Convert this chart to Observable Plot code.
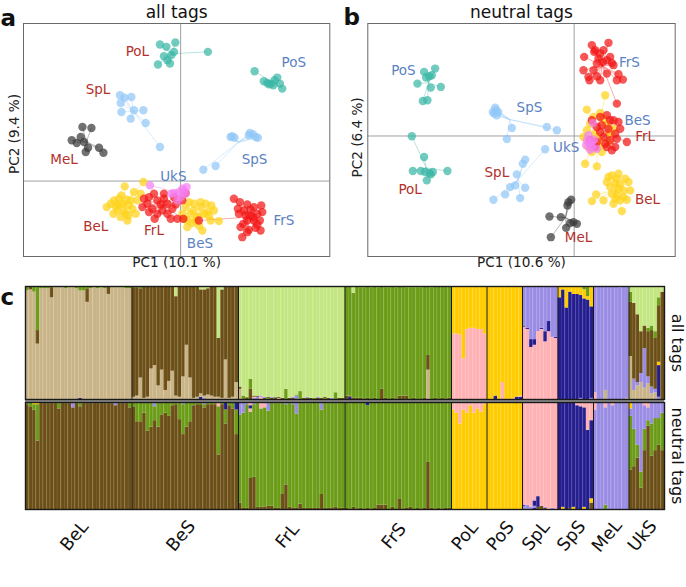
<!DOCTYPE html>
<html><head><meta charset="utf-8">
<script src="https://cdn.jsdelivr.net/npm/d3@7"></script>
<script src="https://cdn.jsdelivr.net/npm/@observablehq/plot@0.6"></script>
<style>
body{margin:0;background:#fff;}
#fig{position:relative;width:686px;height:587px;overflow:hidden;font-family:"DejaVu Sans",sans-serif;}
#fig > div{position:absolute;}
#gap{left:25px;top:399px;width:639px;height:3px;background:#8f8f8f;}
</style></head><body>
<div id="fig">
  <div id="gap"></div>
  <div id="pa" style="left:0;top:0"></div>
  <div id="pb" style="left:343px;top:0"></div>
  <div id="ct" style="left:0;top:285px"></div>
  <div id="cb" style="left:0;top:401px"></div>
</div>
<script>
// ---------- PCA data (PC1, PC2 in arbitrary units) ----------
const a_BeL = [[-5.6,-0.53],[-6.67,-1.93],[-7.4,-2.6],[-6.17,-1.77],[-5.83,-2.27],[-5.17,-2.43],[-6.33,-2.93],[-5.5,-3.27],[-4.83,-2.77],[-6.0,-3.6],[-5.33,-3.93],[-6.5,-2.53],[-4.33,-1.93],[-3.73,-0.1],[-4.67,-1.1],[-7.0,-2.27],[-5.0,-1.93],[-5.73,-2.93],[-6.27,-2.33],[-5.23,-3.43],[-4.5,-3.27],[-6.73,-3.27],[-5.93,-1.43],[-5.4,-1.87],[-4.0,-1.27]];
const a_BeS = [[0.5,-2.6],[1.0,-3.27],[1.33,-2.27],[2.0,-2.6],[2.33,-3.27],[1.67,-3.6],[2.67,-3.1],[3.33,-2.93],[0.67,-3.93],[1.17,-4.2],[1.83,-4.43],[2.17,-4.93],[3.0,-3.93],[3.83,-4.0],[0.17,-3.27],[0.83,-2.1],[2.5,-2.27],[1.5,-3.93],[2.0,-2.1],[2.83,-3.43],[0.67,-4.6],[1.27,-2.93],[3.07,-2.43],[0.33,-3.77]];
const a_FrL = [[-3.67,-1.77],[-3.33,-2.27],[-2.67,-1.27],[-1.67,-1.27],[-2.83,-2.77],[-2.33,-3.27],[-1.83,-2.93],[-3.17,-3.1],[-1.33,-2.27],[-0.67,-1.6],[-0.5,-2.33],[-1.0,-3.77],[-0.33,-3.77],[0.27,-3.77],[0.5,-1.2],[-2.33,-1.93],[-2.0,-2.33],[-3.83,-2.6],[-2.6,-3.77],[-1.33,-3.27],[0.17,-1.93],[-1.67,-1.77],[-0.83,-2.77],[-3.17,-1.6]];
const a_FrS = [[5.33,-1.77],[5.93,-2.1],[6.67,-2.33],[7.33,-2.6],[8.07,-2.43],[7.67,-3.27],[7.0,-3.43],[6.33,-2.93],[5.83,-3.27],[6.67,-3.93],[7.33,-3.93],[7.93,-3.93],[6.0,-4.6],[6.83,-4.87],[7.5,-4.67],[8.0,-4.93],[6.17,-5.6],[6.67,-5.1],[7.27,-3.6],[5.73,-2.77],[6.5,-3.43],[8.17,-3.1],[7.0,-2.87],[6.27,-4.27],[7.67,-4.33],[1.83,-3.93]];
const a_PoL = [[-2.07,13.63],[-1.43,13.4],[-0.53,13.83],[-0.67,12.9],[-1.67,12.47],[-0.93,12.57],[-1.33,12.07],[-2.27,11.63],[-1.07,11.73],[2.73,12.9]];
const a_PoS = [[7.4,10.97],[8.33,9.97],[8.67,9.8],[9.07,9.73],[9.4,10.07],[9.67,10.33],[9.93,9.73],[9.27,9.57],[10.17,9.23],[8.83,9.67]];
const a_SpL = [[-6.07,8.57],[-4.93,8.4],[-6.0,7.8],[-5.93,6.9],[-4.67,7.07],[-3.73,7.07],[-5.0,6.23],[-3.5,5.8],[-2.07,3.4],[-5.6,8.33]];
const a_SpS = [[5.0,4.4],[5.4,4.33],[6.93,4.8],[7.23,4.67],[7.73,4.33],[7.5,4.4],[2.27,1.13],[3.5,1.5],[6.83,4.57],[5.17,4.47]];
const a_MeL = [[-9.83,5.4],[-8.93,5.3],[-10.0,4.4],[-10.9,4.07],[-10.4,3.8],[-9.27,3.33],[-8.17,3.33],[-7.73,2.83],[-9.5,2.9],[-9.67,3.9]];
const a_UkS = [[-3.07,-0.43],[-0.67,-1.2],[-0.17,-1.1],[0.33,-1.0],[0.5,-1.27],[0,-1.6],[-0.33,-1.93],[-0.93,-1.27],[0.6,-0.6],[0.17,-0.77]];
const a_labels = [["PoL",-4.33,12.9],["PoS",11.33,11.8],["SpL",-8.27,9.13],["MeL",-11.67,2.13],["SpS",7.4,2.17],["UkS",-0.73,0.47],["BeL",-8.5,-4.53],["FrL",-2.67,-5.0],["BeS",1.93,-6.2],["FrS",10.33,-3.93]];

const b_BeL = [[3.77,-3.93],[4.27,-4.27],[3.27,-4.6],[4.1,-4.7],[4.6,-4.83],[5.1,-4.27],[5.43,-4.6],[3.6,-5.1],[4.43,-5.27],[4.93,-5.43],[3.77,-5.77],[4.27,-5.93],[5.27,-6.37],[4.6,-6.43],[3.93,-6.77],[1.77,-6.5],[2.2,-5.83],[4.77,-7.5],[2.93,-6.43],[4.1,-6.27],[5.6,-5.43],[3.43,-4.1],[4.43,-3.77],[4.93,-6.1]];
const b_BeS = [[3.1,4.07],[1.27,2.63],[2.6,2.3],[1.6,1.23],[2.1,0.23],[3.27,1.17],[3.93,0.73],[0.93,-0.1],[2.43,-0.27],[3.6,0.23],[1.43,-1.1],[2.77,-1.6],[1.1,-2.77],[2.27,-3.03],[1.93,1.9],[2.93,1.73],[3.43,-0.6],[1.77,-1.6],[2.6,-0.93],[1.27,0.57]];
const b_FrL = [[1.77,1.57],[2.6,1.9],[3.27,2.07],[3.6,1.57],[4.43,1.4],[4.6,0.73],[4.1,0.23],[5.27,-0.6],[2.6,0.4],[2.93,-0.1],[3.6,-0.43],[2.27,-0.6],[3.27,-1.1],[3.77,-1.43],[1.6,-0.43],[2.1,-1.1],[4.27,-0.27],[2.77,1.07],[3.43,0.73],[4.1,-1.1],[2.27,0.9],[3.93,1.57],[3.1,-0.77]];
const b_FrS = [[1.77,9.07],[3.43,9.3],[2.1,8.57],[2.6,8.23],[1.0,7.9],[2.87,7.4],[3.27,7.57],[2.27,7.23],[3.6,7.9],[3.93,7.07],[1.93,6.57],[0.93,6.57],[1.53,5.57],[2.27,5.97],[3.27,6.23],[4.43,6.17],[4.87,5.63],[4.27,5.57],[4.27,3.23],[2.0,8.4],[2.93,8.57],[2.43,7.73],[3.77,7.3],[1.43,5.9],[2.6,5.57]];
const b_PoL = [[-16.23,-0.03],[-15.0,-2.1],[-16.13,-3.5],[-15.33,-3.5],[-14.47,-3.7],[-14.33,-3.83],[-14.73,-4.43],[-12.67,-3.5],[-14.9,-3.6],[-14.13,-3.6]];
const b_PoS = [[-15.0,6.4],[-13.9,6.73],[-14.47,5.97],[-15.67,5.23],[-14.33,4.83],[-13.33,4.9],[-15.13,3.5],[-14.67,3.57],[-14.8,5.83],[-14.23,6.07]];
const b_SpL = [[-4.9,-2.37],[-5.73,-3.83],[-5.9,-4.93],[-4.9,-5.17],[-6.9,-5.83],[-8.07,-6.37],[-5.4,-6.2],[-6.4,-5.1],[-5.13,-2.77],[-2.9,-1.33]];
const b_SpS = [[-7.9,2.83],[-8.0,2.23],[-7.73,2.07],[-6.23,0.8],[-6.73,-0.3],[-2.73,0.9],[-1.73,0.57],[-8.13,2.4],[-7.8,2.57],[-7.6,2.4]];
const b_MeL = [[-0.3,-6.37],[-0.67,-6.93],[-2.47,-8.03],[-1.33,-8.1],[-0.4,-8.7],[0.27,-8.77],[-0.8,-9.17],[-2.33,-10.1],[-0.07,-8.6],[-0.57,-6.6]];
const b_UkS = [[1.87,1.3],[1.43,0.07],[1.27,-0.43],[1.77,-1.1],[1.6,-1.37],[2.0,-0.37],[1.53,-0.77],[1.2,-0.93],[2.27,-1.27],[1.77,-0.6]];
const b_labels = [["PoS",-17.07,6.57],["SpS",-4.47,2.83],["FrS",5.53,7.3],["BeS",6.33,1.5],["FrL",7.1,-0.03],["UkS",-0.8,-1.17],["SpL",-7.73,-3.7],["PoL",-16.4,-5.37],["BeL",7.33,-6.37],["MeL",0.43,-10.17]];

const groupNames = ["BeL","BeS","FrL","FrS","PoL","PoS","SpL","SpS","MeL","UkS"];
const groupColors = ["#ffd21a","#ffd21a","#f31616","#f31616","#3cb7a6","#3cb7a6","#92c8f6","#92c8f6","#3a3a3a","#f47ef1"];
const labelRed = "#b3302b", labelBlue = "#5a82c2";

// ---------- STRUCTURE data: tokens bottom->top, letter = cluster, number = percent ----------
const popNames = ["BeL","BeS","FrL","FrS","PoL","PoS","SpL","SpS","MeL","UkS"];
const clusterKeys = ["t","b","l","o","g","p","v","n"];
const clusterFill = ["#c9b487","#6b4f16","#c3e680","#6b9c17","#ffcc00","#ffb1b4","#9a8ce4","#231d8f"];

const all_BeL = ["t96 o4","t97 b3","t95 o5","t49 b12 o39","t98 o2","t98 o2","t98 o2","t90 b9 o1","t99 o1","t99 o1","t99 o1","t98 o2","t99 o1","t99 o1","t98 o2","n1 t95 o4","t96 o4","t86 b12 o2","t98 o2","t99 o1","t98 o2","t99 o1","t98 o2","t93 b7","t99 o1","t99 o1","t99 o1","t99 o1","t98 o2","t98 o2"];
const all_BeS = ["t2 b97 o1","t3 b96 o1","t19 b79 o2","t1 b99","t2 b98","t27 b73","t30 b70","t12 b88","t26 b74","t8 b92","t16 b84","t25 b75","t3 b88 l9","t2 b98","t20 b80","t48 b52","t19 b81","t1 b99","t2 b98","n2 t3 b92 l3","v1 t2 b94 l3","t4 b94 l2","t3 b97","t2 b98","t2 b52 l46","t1 b96 l3","t35 b65","t1 b99","t2 b98","t15 b85"];
const all_FrL = ["t9 b2 l89","o3 l97","b1 o1 l98","b9 o9 l82","v1 p1 b1 l97","v2 b1 l97","p2 v1 l97","b1 v1 l98","o1 b1 l98","b1 v1 l98","b1 o1 l98","p1 b1 l98","b1 l99","o9 l91","b1 l99","b1 v1 l98","v3 o1 l96","o7 l93","b1 l99","b1 v1 l98","b1 l99","o1 l99","b1 v1 l98","b1 l99","o1 b1 l98","b1 l99","v1 l99","o6 l94","b1 l99","b1 l99"];
const all_FrS = ["b3 o97","n2 b1 o97","b1 o93 l6","b1 o99","b1 o98 l1","o99 l1","b1 o99","o99 l1","b1 o99","o99 l1","b9 o91","b1 o98 l1","o99 l1","b1 o99","o99 l1","b3 o97","b3 o97","b3 o96 l1","o99 l1","b1 o98 l1","o99 l1","o99 l1","b1 o99","t26 b13 o61","o99 l1","b1 o99","o100","b1 o99","o100","b1 o99"];
const all_PoL = ["p58 g42","p58 g42","p57 g43","p36 g64","p62 g38","p63 g37","p63 g37","p62 g38","p62 g38","p58 g42"];
const all_PoS = ["g100","g100","n3 g97","g100","p15 g85","g100","g100","p1 g99","n2 g98","n2 p1 g97"];
const all_SpL = ["p64 n1 v35","p62 n1 v37","p46 n7 v47","p48 n5 v47","p60 v40","p62 n1 v37","p51 n9 v40","p60 n9 v31","p55 v45","p54 n1 v45"];
const all_SpS = ["n90 g10","n97 g3","n81 g19","n95 g5","n93 g7","n93 g7","v1 n91 g8","n89 g8 o3","n88 g3 o9","v1 n81 g18"];
const all_MeL = ["p6 v94","v100","v100","t8 v92","v100","v100","v100","v99 l1","v100","t1 v99"];
const all_UkS = ["t38 b48 o9 l5","t8 v10 b67 l15","t12 v3 b60 l25","t15 v8 b37 l40","t10 v35 b20 l35","t14 v6 b40 o3 l37","t5 v6 b50 o4 l35","t6 v3 b45 o6 l40","v2 n28 g3 b50 o7 l10","b95 l5"];

const neu_BeL = ["b98 o2","b96 o4","b93 o5 g2","b64 o34 g2","b99 o1","b99 o1","b99 o1","b99 o1","b99 o1","b94 o6","b99 o1","b99 o1","b99 o1","b95 v5","b99 o1","b96 o3 n1","b99 o1","b99 o1","b99 o1","b99 o1","b99 o1","b99 o1","b99 o1","b99 o1","b99 o1","b97 v3","b99 o1","b99 o1","b99 o1","b95 o5"];
const neu_BeS = ["b96 o4","b82 o18","b82 o18","b90 o10","b73 o27","b77 o23","b83 o13 v4","b77 o23","b88 o12","b90 o10","b87 o13","b97 o3","b98 o2","b84 o16","b70 o28 v2","b77 o23","b82 o18","b97 o3","b98 o2","b98 o2","b95 o3 v2","b98 o2","b98 o2","b98 o2","b51 o45 p4","b98 o2","b80 o13 n7","b97 o3","b94 o6","b70 o23 n7"];
const neu_FrL = ["b6 o82 v12","b1 o89 v10","b1 o97 v2","b29 o62 p3 n3 p3","b30 o68 v2","b2 o97 v1","b2 o92 p6","b2 o93 p5","b3 o89 v8","b3 o96 v1","b1 o98 v1","b1 o98 p1","b14 o85 v1","b23 o75 v2","b2 o97 v1","b1 o97 v2","b1 o88 v11","b5 o94 v1","b1 o98 v1","b1 o98 p1","b1 o98 v1","b1 o99","b1 o98 v1","b14 o79 v7","b1 o99","b1 o98 v1","b1 o99","b2 o97 v1","b1 o99","b1 o98 n1"];
const neu_FrS = ["b1 o99","o99 v1","b2 o98","o100","b1 o99","o100","b1 o96 n3","o100","b1 o99","b4 o96","b4 o96","b4 o96","o100","b2 o98","o100","b10 o90","o100","b1 o99","b2 o98","o100","b1 o99","o100","b1 o99","b44 o56","b1 o99","o100","b1 o99","o100","b1 o99","b1 o98 n1"];
const neu_PoL = ["g93 p7","g90 p10","g80 p20","g93 p7","g90 p10","g97 p3","g90 p10","g94 p6","g91 p9","g98 p2"];
const neu_PoS = ["g100","g100","g100","g100","g100","g100","g100","g100","g99 n1","g100"];
const neu_SpL = ["v3 n1 p96","v4 p96","v2 p98","n1 v2 n5 p92","b2 n10 p88","b3 p97","b1 v1 p98","p100","v1 p99","p100"];
const neu_SpS = ["n100","g2 n98","n100","b1 n99","g2 n98","n97 p3","n96 p4","g2 n93 p5","n74 p26","b6 g4 n73 p17"];
const neu_MeL = ["v93 p7","v100","v100","o4 v91 p5","v100","v97 p3","v100","v100","v100","v99 l1"];
const neu_UkS = ["b37 o50 v7 g6","b40 o35 v25","b48 o12 v40","b20 o15 v65","b55 o20 v22 p3","b78 o5 v12 p5","b50 o30 v20","b55 o30 v15","b60 o25 v15","b55 o35 v10"];

const allRows = [all_BeL,all_BeS,all_FrL,all_FrS,all_PoL,all_PoS,all_SpL,all_SpS,all_MeL,all_UkS];
const neuRows = [neu_BeL,neu_BeS,neu_FrL,neu_FrS,neu_PoL,neu_PoS,neu_SpL,neu_SpS,neu_MeL,neu_UkS];

const FONT = "DejaVu Sans, sans-serif";

// ---------- PCA panels ----------
function pcaPlot(groupArrays, labels, cfg) {
  const colorOf = new Map(groupNames.map((g, i) => [g, groupColors[i]]));
  const pts = [];
  groupArrays.forEach((arr, gi) => arr.forEach(([x, y]) => pts.push({g: groupNames[gi], x, y})));
  const cent = d3.rollup(pts, v => [d3.mean(v, d => d.x), d3.mean(v, d => d.y)], d => d.g);
  return Plot.plot({
    width: 343, height: 280,
    marginLeft: cfg.ml, marginRight: cfg.mr, marginTop: 23, marginBottom: 24,
    x: {domain: cfg.xd, axis: null},
    y: {domain: cfg.yd, axis: null},
    color: {type: "identity"},
    style: {background: "transparent", fontFamily: FONT, overflow: "visible"},
    marks: [
      Plot.ruleX([0], {stroke: "#a0a0a0", strokeWidth: 1}),
      Plot.ruleY([0], {stroke: "#a0a0a0", strokeWidth: 1}),
      Plot.link(pts, {x1: "x", y1: "y", x2: d => cent.get(d.g)[0], y2: d => cent.get(d.g)[1],
        stroke: d => colorOf.get(d.g), strokeOpacity: 0.45, strokeWidth: 0.8}),
      Plot.dot(pts, {x: "x", y: "y", r: 4.2, fill: d => colorOf.get(d.g), fillOpacity: 0.72, stroke: "none"}),
      Plot.text(labels, {x: d => d[1], y: d => d[2], text: d => d[0],
        fill: d => d[0].endsWith("L") ? labelRed : labelBlue, fontSize: 13.5}),
      Plot.frame({stroke: "#6a6a6a", strokeWidth: 1}),
      Plot.text([cfg.title], {text: d => d, frameAnchor: "top", dy: -18, fontSize: 17, fill: "#111"}),
      Plot.text([cfg.letter], {text: d => d, frameAnchor: "top-left", textAnchor: "start",
        dx: -cfg.ml, dy: cfg.letterDy, fontSize: 23, fontWeight: "bold", fill: "#111"}),
      Plot.text([cfg.xlabel], {text: d => d, frameAnchor: "bottom", dy: 10, fontSize: 13.6, fill: "#222"}),
      Plot.text([cfg.ylabel], {text: d => d, frameAnchor: "left", textAnchor: "middle", rotate: -90,
        dx: cfg.ydx, dy: cfg.ydy, fontSize: 13.6, fill: "#222"})
    ]
  });
}

document.getElementById("pa").append(pcaPlot(
  [a_BeL,a_BeS,a_FrL,a_FrS,a_PoL,a_PoS,a_SpL,a_SpS,a_MeL,a_UkS], a_labels,
  {ml: 23, mr: 13.7, xd: [-15.73, 14.93], yd: [-7.53, 15.73], title: "all tags", letter: "a",
   letterDy: -14, xlabel: "PC1 (10.1 %)", ylabel: "PC2 (9.4 %)", ydx: -9, ydy: -6}));

document.getElementById("pb").append(pcaPlot(
  [b_BeL,b_BeS,b_FrL,b_FrS,b_PoL,b_PoS,b_SpL,b_SpS,b_MeL,b_UkS], b_labels,
  {ml: 24.3, mr: 11.3, xd: [-20.63, 10.1], yd: [-12.03, 11.23], title: "neutral tags", letter: "b",
   letterDy: -15, xlabel: "PC1 (10.6 %)", ylabel: "PC2 (6.4 %)", ydx: -10.3, ydy: -2.6}));

// ---------- STRUCTURE panel ----------
const popSizes = allRows.map(a => a.length);
const popStarts = [0, ...d3.cumsum(popSizes)].slice(0, popSizes.length);
const N = d3.sum(popSizes);

function buildRows(rowArrays) {
  const out = []; let i = 0;
  rowArrays.forEach((arr, pi) => arr.forEach(s => {
    const parts = s.trim().split(/\s+/).map(t => ({k: t[0], v: +t.slice(1)}));
    const tot = d3.sum(parts, d => d.v);
    parts.forEach(d => out.push({i0: i, i1: i + 1, k: d.k, f: d.v / tot, pop: popNames[pi]}));
    i++;
  }));
  return out;
}

function structurePlot(rowArrays, label, cfg) {
  const rows = buildRows(rowArrays);
  const marks = [
    Plot.rectY(rows, {x1: "i0", x2: "i1", y: "f", fill: "k"}),
    Plot.ruleX(d3.range(1, N), {stroke: "#ffffff", strokeOpacity: 0.13, strokeWidth: 0.6}),
    Plot.ruleX(popStarts.slice(1), {stroke: "#1a1a1a", strokeWidth: 1}),
    Plot.frame({stroke: "#1a1a1a", strokeWidth: 1.4}),
    Plot.text([label], {text: d => d, frameAnchor: "right", textAnchor: "middle", dx: 12.5, rotate: 90,
      fontSize: 16, fill: "#111"})
  ];
  if (cfg.letter) marks.push(Plot.text([cfg.letter], {text: d => d, frameAnchor: "top-left", textAnchor: "start",
    dx: -25, dy: 2, fontSize: 23, fontWeight: "bold", fill: "#111"}));
  if (cfg.popLabels) marks.push(Plot.text(popNames, {text: d => d,
    x: (d, i) => popStarts[i] + popSizes[i] / 2, frameAnchor: "bottom", dy: 30,
    rotate: -50, textAnchor: "middle", fontSize: 17.5, fill: "#111"}));
  return Plot.plot({
    width: 686, height: cfg.height,
    marginLeft: 25, marginRight: 22, marginTop: 1, marginBottom: cfg.mb,
    x: {domain: [0, N], axis: null},
    y: {domain: [0, 1], axis: null},
    color: {domain: clusterKeys, range: clusterFill},
    style: {background: "transparent", fontFamily: FONT, overflow: "visible"},
    marks
  });
}

document.getElementById("ct").append(structurePlot(allRows, "all tags", {height: 115, mb: 1, letter: "c"}));
document.getElementById("cb").append(structurePlot(neuRows, "neutral tags", {height: 161, mb: 53, popLabels: true}));
</script>
</body></html>
